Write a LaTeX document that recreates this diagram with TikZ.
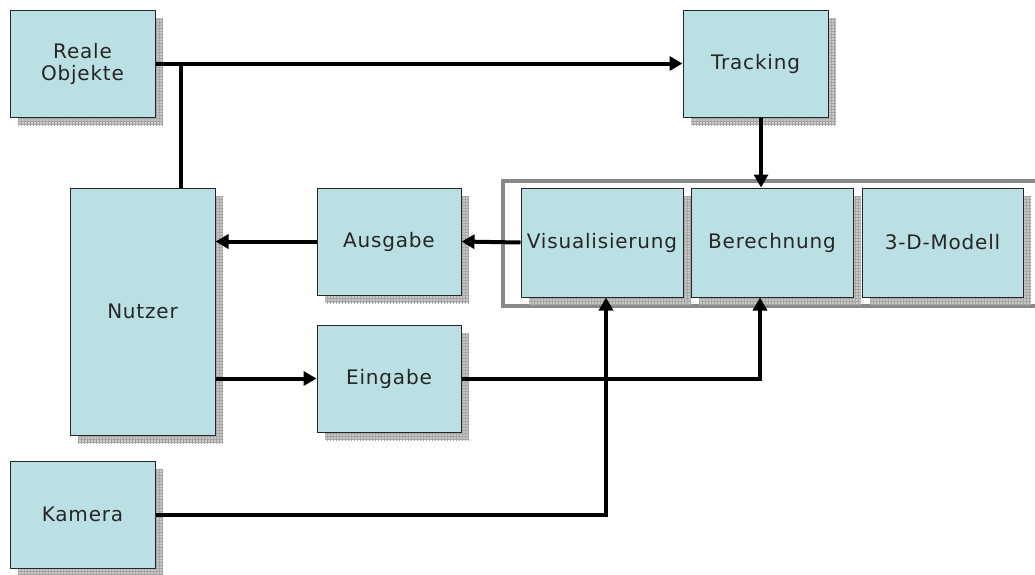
\documentclass[tikz,border=0pt]{standalone}
\usepackage{fontspec}
\setmainfont{DejaVu Sans}[LetterSpace=4]
\usetikzlibrary{arrows.meta,patterns,shadows}
\definecolor{boxfill}{RGB}{187,224,227}
\definecolor{framegray}{RGB}{136,136,136}
\definecolor{shadowfill}{RGB}{200,200,200}
\definecolor{shadowline}{RGB}{165,165,165}
\tikzset{
  blk/.style={draw=black!85, line width=1pt, fill=boxfill, inner sep=0pt,
    align=center, font=\fontsize{20}{24}\selectfont, text=black!85,
    general shadow={fill=shadowfill, shadow xshift=8pt, shadow yshift=-8pt},
    general shadow={pattern=grid, pattern color=shadowline, shadow xshift=8pt, shadow yshift=-8pt}},
  arr/.style={line width=4pt, -{Triangle[length=13pt,width=14pt]}},
  ln/.style={line width=4pt},
  frm/.style={draw=framegray, line width=3.5pt}
}
\begin{document}
\begin{tikzpicture}[x=1pt,y=-1pt]
\useasboundingbox (0,0) rectangle (1035,574);
\clip (0,0) rectangle (1035,574);
\node[blk, minimum width=145pt, minimum height=107pt] (reale) at (82.5,63.5) {Reale\\[-2pt]Objekte};
\node[blk, minimum width=145pt, minimum height=107pt] (tracking) at (755.5,63.5) {Tracking};
\node[blk, minimum width=145pt, minimum height=247pt] (nutzer) at (142.5,311.5) {Nutzer};
\node[blk, minimum width=144pt, minimum height=107pt] (ausgabe) at (389,241.5) {Ausgabe};
\node[blk, minimum width=144pt, minimum height=107pt] (eingabe) at (389,378.5) {Eingabe};
\node[blk, minimum width=145pt, minimum height=107pt] (kamera) at (82.5,514.5) {Kamera};
\draw[frm] (503,181) rectangle (1045,306);
\node[blk, minimum width=162pt, minimum height=109pt] (vis) at (602,242.5) {Visualisierung};
\node[blk, minimum width=162pt, minimum height=109pt] (ber) at (772,242.5) {Berechnung};
\node[blk, minimum width=161pt, minimum height=109pt] (modell) at (942.5,242.5) {3-D-Modell};
% connectors
\coordinate (j) at (181,63.5);
\draw[arr] (reale.east) -- (tracking.west);
\draw[ln] (j) -- (j |- nutzer.north);
\draw[arr] ([xshift=5.5pt]tracking.south) -- ([xshift=-11pt]ber.north);
\draw[arr] (vis.west) -- (ausgabe.east);
\draw[arr] (ausgabe.west) -- (ausgabe.west -| nutzer.east);
\draw[arr] (eingabe.west -| nutzer.east) -- (eingabe.west);
\draw[arr] (eingabe.east) -| ([xshift=-12pt]ber.south);
\draw[arr] (kamera.east) -| ([xshift=4pt]vis.south);
\end{tikzpicture}
\end{document}
